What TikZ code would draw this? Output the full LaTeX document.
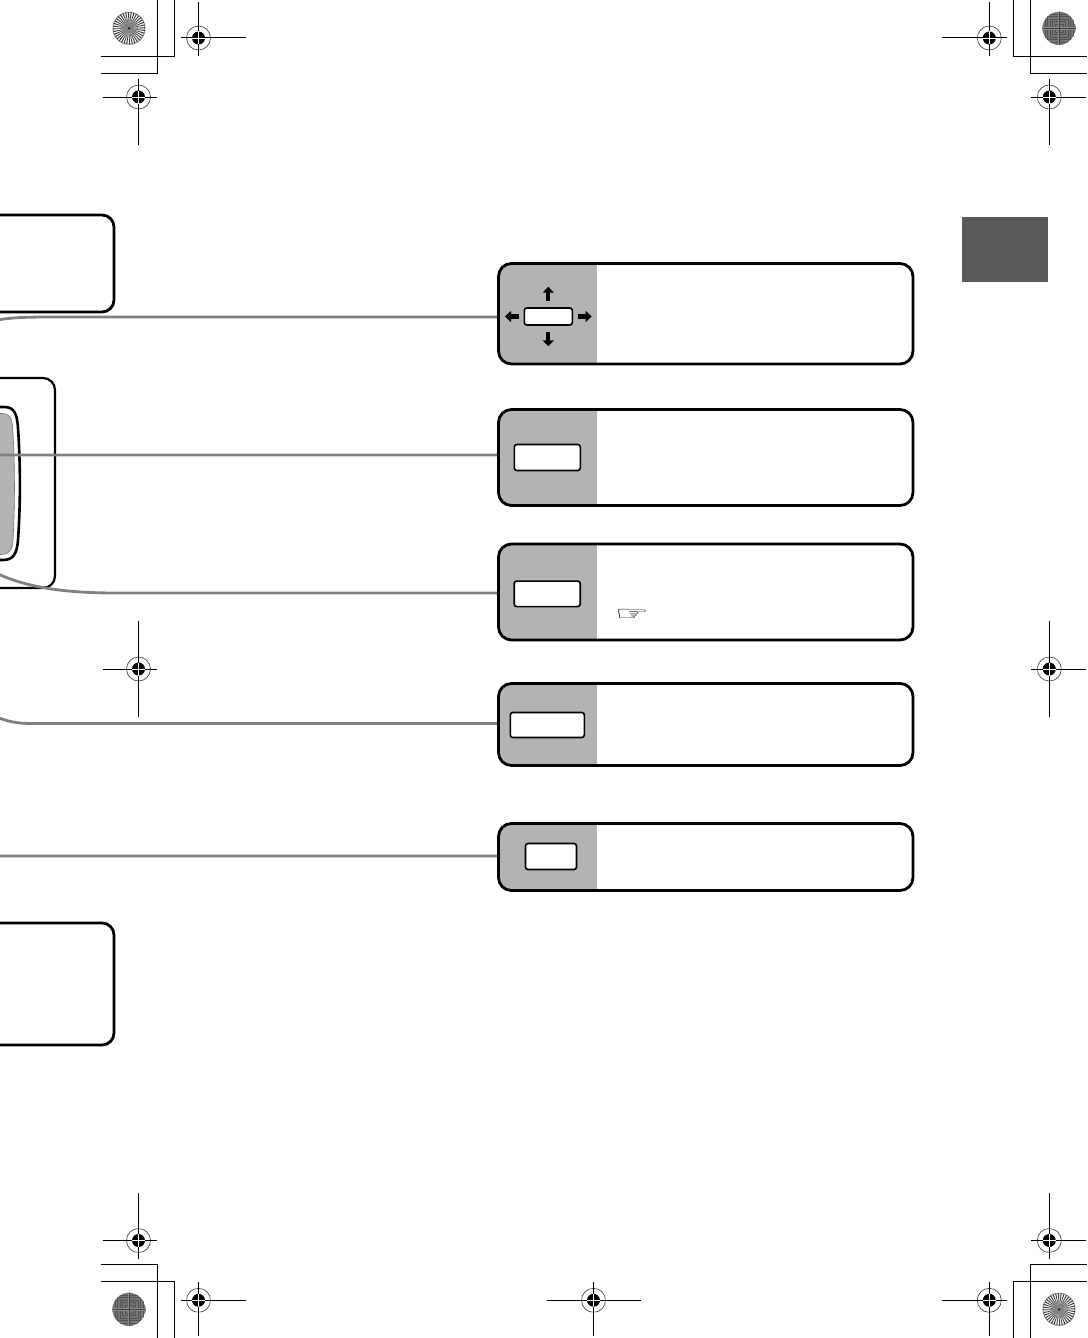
\documentclass[tikz,border=0pt]{standalone}
\usepackage{fontspec}
\usetikzlibrary{arrows.meta, calc}
\newfontfamily\handfont{DejaVu Sans}
\definecolor{panelgray}{RGB}{179, 179, 179}
\definecolor{wiregray}{RGB}{128, 128, 128}
\definecolor{tabgray}{RGB}{89, 89, 89}
\definecolor{discgray}{RGB}{118, 118, 118}
\tikzset{
  panel/.style={draw=black, line width=2.8pt, rounded corners=13pt, minimum width=414.5pt, anchor=north west, inner sep=0pt, outer sep=0pt, fill=white,
    path picture={\fill[panelgray, sharp corners] (path picture bounding box.north west) rectangle ([xshift=98.5pt]path picture bounding box.south west);}},
  keybox/.style={draw=black, line width=1.6pt, rounded corners=2.5pt, fill=white, inner sep=0pt},
  keyarrow/.style={line width=4.2pt, -{Triangle[length=6pt, width=11pt]}},
  wire/.style={draw=wiregray, line width=2.8pt, shorten <=1.4pt},
  edgebox/.style={draw=black, line width=2.8pt, rounded corners=12pt},
  markline/.style={line width=1pt, draw=black},
  cropline/.style={line width=1.1pt, draw=black}
}
\begin{document}
\begin{tikzpicture}[x=1pt, y=-1pt]
  \clip (0,0) rectangle (1087,1338);
  \fill[white] (0,0) rectangle (1087,1338);

  % registration marks
  \foreach \mx/\my/\ml/\mr/\mu/\md in {198.5/38/18/47/36/18, 138.5/97/36/18/18/48, 989.3/38/47/18/36/18, 1049.3/97/18/37/18/48,
      138.5/669/36/18/48/48, 1049.3/669/18/37/48/48, 138.5/1240.5/36/18/48/18, 1049.3/1240.5/18/37/48/18,
      198.5/1300.3/18/47/18/36, 593.5/1300.3/47/47/18/36, 989.3/1300.3/47/18/18/36} {
    \draw[black!70, line width=.7pt] (\mx,\my) circle (12pt);
    \draw[markline] (\mx-\ml,\my) -- (\mx+\mr,\my) (\mx,\my-\mu) -- (\mx,\my+\md);
    \fill[black] (\mx,\my) circle (6.5pt);
    \draw[white, line width=.9pt] (\mx-6.5,\my) -- (\mx+6.5,\my) (\mx,\my-6.5) -- (\mx,\my+6.5);
  }

  % crop corners
  \draw[cropline] (101,56.3) -- (174.3,56.3) -- (174.3,0);
  \draw[cropline] (101,73.3) -- (157.7,73.3) -- (157.7,0);
  \draw[cropline] (1087,56.3) -- (1013.3,56.3) -- (1013.3,0);
  \draw[cropline] (1087,73.3) -- (1030.3,73.3) -- (1030.3,0);
  \draw[cropline] (101,1264.3) -- (157.7,1264.3) -- (157.7,1338);
  \draw[cropline] (101,1281.3) -- (174.3,1281.3) -- (174.3,1338);
  \draw[cropline] (1087,1264.3) -- (1030.3,1264.3) -- (1030.3,1338);
  \draw[cropline] (1087,1281.3) -- (1013.3,1281.3) -- (1013.3,1338);

  % colour discs
  \foreach \cx/\cy in {129/28.3, 1059/1309.3} {
    \fill[black!45] (\cx,\cy) circle (16.5pt);
    \fill[white] (\cx,\cy) circle (15.5pt);
    \foreach \ang in {0,10,...,350} {
      \fill[black!80] (\cx,\cy) -- ($(\cx,\cy)+(\ang:16pt)$) -- ($(\cx,\cy)+(\ang+4:16pt)$) -- cycle;
    }
    \fill[black!50, opacity=.5] (\cx,\cy) circle (9pt);
    \fill[black!50, opacity=.6] (\cx,\cy) circle (5pt);
    \fill[black] (\cx,\cy) circle (1pt);
  }
  \foreach \cx/\cy in {1059/28.3, 129/1309.3} {
    \begin{scope}
      \clip (\cx,\cy) circle (16.5pt);
      \fill[discgray] (\cx,\cy) circle (16.5pt);
      \foreach \rr in {4,6.5,...,17} {
        \draw[black!68, line width=.9pt] (\cx-\rr,\cy-\rr) rectangle (\cx+\rr,\cy+\rr);
      }
      \draw[black!45, line width=2.5pt] (\cx-17,\cy) -- (\cx+17,\cy) (\cx,\cy-17) -- (\cx,\cy+17);
      \draw[black!75, line width=.6pt] (\cx-17,\cy) -- (\cx+17,\cy) (\cx,\cy-17) -- (\cx,\cy+17);
    \end{scope}
  }

  % tab
  \fill[tabgray] (962,217) rectangle (1048,282);

  % left side shapes
  \draw[edgebox] (-30,215) rectangle (114,312);
  \draw[edgebox] (-30,923) rectangle (114,1045);
  \draw[edgebox, line width=2.2pt] (-30,378) rectangle (55,588);
  \draw[black, line width=2.6pt] (-5,407) -- (4,407) .. controls (14,407) and (17,413) .. (18,428)
    .. controls (20.5,465) and (20.5,505) .. (18,540) .. controls (17,554) and (13,560) .. (3,560) -- (-5,560);
  \fill[panelgray, draw=black!55, line width=.6pt] (-5,413.5) -- (2,413.5) .. controls (9,413.5) and (12,417) .. (12.7,428)
    .. controls (15,465) and (15,505) .. (13,540) .. controls (12.5,550) and (9,554.5) .. (2,554.5) -- (-5,554.5) -- cycle;

  % panels
  \foreach \nm/\ytop/\hgt in {panelA/263.5/100.5, panelB/409.5/96, panelC/544/96, panelD/683.5/82, panelE/823.5/67} {
    \node[panel, minimum height=\hgt pt] (\nm) at (498.5,\ytop) {};
  }

  % keys
  \node[keybox, minimum width=48pt, minimum height=17pt] (keyA) at (548.3,316.5) {};
  \node[keybox, minimum width=66pt, minimum height=26pt] (keyB) at (547.3,457.5) {};
  \node[keybox, minimum width=66pt, minimum height=25.5pt] (keyC) at (547.2,593.8) {};
  \node[keybox, minimum width=74pt, minimum height=25pt] (keyD) at (547.3,725) {};
  \node[keybox, minimum width=51pt, minimum height=26pt] (keyE) at (551,856.5) {};

  \draw[keyarrow] ([yshift=6.5pt]keyA.north) -- ([yshift=20.5pt]keyA.north);
  \draw[keyarrow] ([yshift=-6.5pt]keyA.south) -- ([yshift=-20.5pt]keyA.south);
  \draw[keyarrow] ([xshift=-5pt]keyA.west) -- ([xshift=-18.5pt]keyA.west);
  \draw[keyarrow] ([xshift=5pt]keyA.east) -- ([xshift=18.5pt]keyA.east);

  \node[font=\handfont, inner sep=0pt] (hand) at (632,615) {\scalebox{1.27}[.65]{\fontsize{30}{30}\selectfont ☞}};

  % connectors
  \coordinate (bendA) at (50,317);
  \coordinate (bendB) at (-4,455);
  \coordinate (bendC) at (118,593);
  \coordinate (bendD) at (32,723.5);
  \coordinate (bendE) at (-4,856);
  \coordinate (freeA) at (-6,320.5);
  \coordinate (freeB) at (-8,457);
  \coordinate (freeC) at (-6,572);
  \coordinate (freeD) at (-6,716);
  \coordinate (freeE) at (-8,858);
  \draw[wire] (panelA.west |- bendA) -- (bendA) .. controls (20,317) and (8,318) .. (freeA);
  \draw[wire] (panelB.west |- bendB) -- (bendB) .. controls (-6,455) and (-7,456) .. (freeB);
  \draw[wire] (panelC.west |- bendC) -- (bendC) .. controls (75,593) and (30,590) .. (freeC);
  \draw[wire] (panelD.west |- bendD) -- (bendD) .. controls (18,723.5) and (8,722) .. (freeD);
  \draw[wire] (panelE.west |- bendE) -- (bendE) .. controls (-6,856) and (-7,857) .. (freeE);
\end{tikzpicture}
\end{document}
